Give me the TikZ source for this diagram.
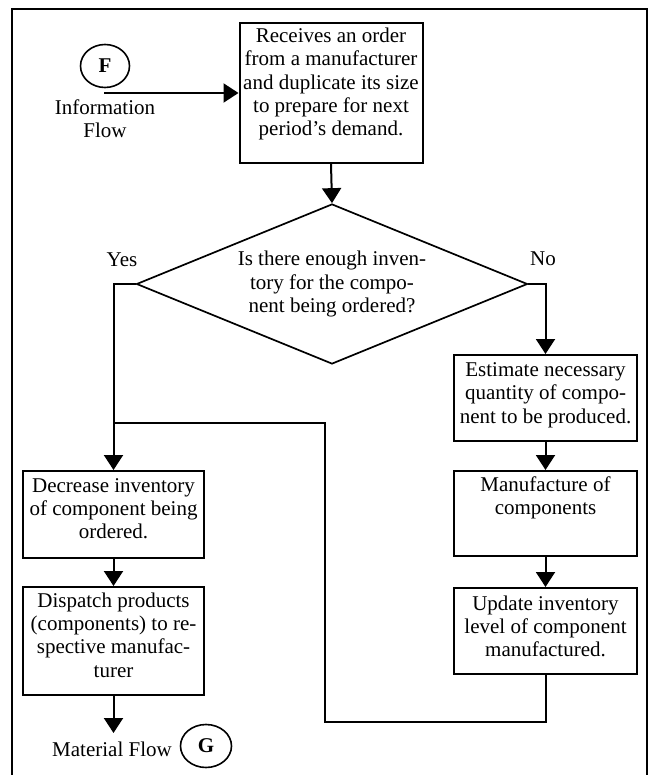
\documentclass[tikz,border=0pt]{standalone}
\usepackage{fontspec}
\setmainfont{Liberation Serif}
\usetikzlibrary{arrows.meta,shapes.geometric}
\begin{document}
\begin{tikzpicture}[x=1pt,y=-1pt,
  every node/.style={font=\fontsize{21}{23.3}\selectfont},
  boxnode/.style={draw,line width=2pt,inner sep=0pt},
  txt/.style={align=center,inner sep=0pt},
  conn/.style={line width=2pt},
  arr/.style={conn,-{Triangle[length=15pt,width=19pt]}},
  circ/.style={draw,ellipse,line width=1.6pt,inner sep=0pt,font=\fontsize{21}{23.3}\selectfont\bfseries}
]
\path[use as bounding box,fill=white] (0,0) rectangle (649,775);
% frame
\draw[line width=1.8pt] (12,775) -- (12,9) -- (647,9) -- (647,775);

% start marker
\node[circ,minimum width=49pt,minimum height=43pt] (F) at (105,66) {F};
\node[txt] (info) at (105,118.5) {Information\\Flow};
\coordinate (fstart) at (104,93);

% top box
\node[boxnode,minimum width=183pt,minimum height=140pt] (top) at (331,93) {};
\node[txt] (toptxt) at (331,84) {Receives an order\\from a manufacturer\\and duplicate its size\\to prepare for next\\period’s demand.};

% decision
\node[draw,diamond,line width=1.7pt,inner sep=0pt,minimum width=391pt,minimum height=160pt] (dia) at (332,284) {};
\node[txt] (diatxt) at (332,284) {Is there enough inven-\\tory for the compo-\\nent being ordered?};
\node[txt] (yes) at (122,260) {Yes};
\node[txt] (no) at (543,259) {No};

% right column
\node[boxnode,minimum width=183pt,minimum height=86pt] (est) at (545.5,398) {};
\node[txt] (esttxt) at (545.5,395) {Estimate necessary\\quantity of compo-\\nent to be produced.};
\node[boxnode,minimum width=183pt,minimum height=85pt] (man) at (545.5,513.5) {};
\node[txt] (mantxt) at (545.5,498) {Manufacture of\\components};
\node[boxnode,minimum width=183pt,minimum height=86pt] (upd) at (545.5,631) {};
\node[txt] (updtxt) at (545.5,626.5) {Update inventory\\level of component\\manufactured.};

% left column
\node[boxnode,minimum width=181pt,minimum height=87pt] (dec) at (113.5,514.5) {};
\node[txt] (dectxt) at (113.5,508.5) {Decrease inventory\\of component being\\ordered.};
\node[boxnode,minimum width=181pt,minimum height=108pt] (dis) at (113.5,641) {};
\node[txt] (distxt) at (113.5,635) {Dispatch products\\(components) to re-\\spective manufac-\\turer};

% end marker
\coordinate (mend) at (113.5,733);
\node[txt] (mat) at (112,749) {Material Flow};
\node[circ,minimum width=51pt,minimum height=43pt] (G) at (206,746) {G};

% routing points
\coordinate (yescorner) at (113.5,284);
\coordinate (nocorner) at (545.5,284);
\coordinate (join) at (113.5,423);
\coordinate (loopa) at (545.5,722);
\coordinate (loopb) at (325,722);
\coordinate (loopc) at (325,423);

% connectors
\draw[arr] (fstart) -- (top.west);
\draw[arr] (top.south) -- (dia.north);
\draw[arr] (dia.west) -- (yescorner) -- (dec.north);
\draw[arr] (dia.east) -- (nocorner) -- (est.north);
\draw[arr] (est.south) -- (man.north);
\draw[arr] (man.south) -- (upd.north);
\draw[conn] (upd.south) -- (loopa) -- (loopb) -- (loopc) -- (join);
\draw[arr] (dec.south) -- (dis.north);
\draw[arr] (dis.south) -- (mend);
\end{tikzpicture}
\end{document}
